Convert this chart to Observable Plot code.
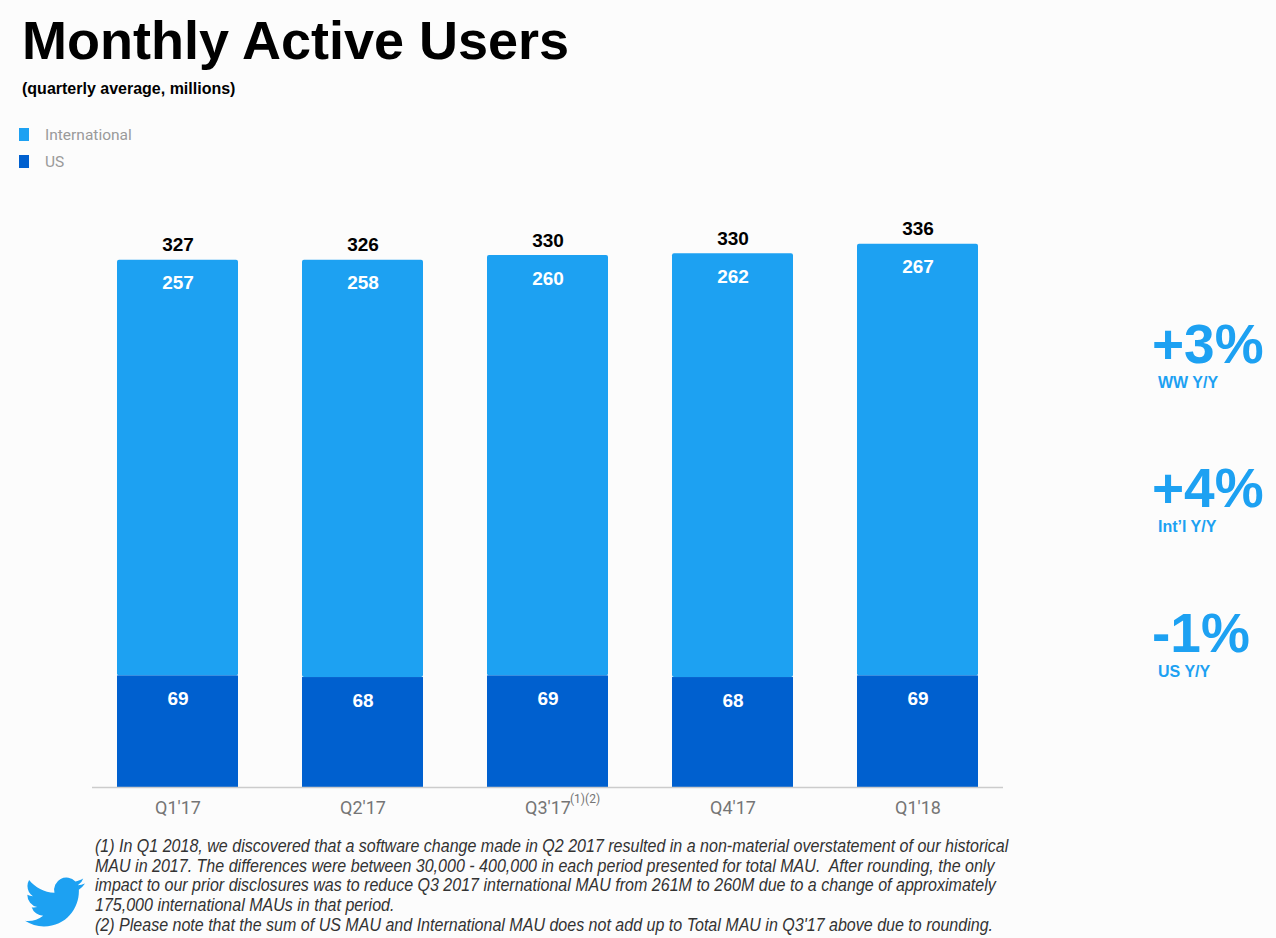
<!DOCTYPE html>
<html>
<head>
<meta charset="utf-8">
<script src="https://cdn.jsdelivr.net/npm/d3@7"></script>
<script src="https://cdn.jsdelivr.net/npm/@observablehq/plot@0.6"></script>
<style>
  html, body { margin: 0; padding: 0; background: #fcfcfc; }
  #page { position: relative; width: 1276px; height: 938px; overflow: hidden; background: #fcfcfc; font-family: "Liberation Sans", Arial, Helvetica, sans-serif; }
  #title { position: absolute; left: 22px; top: 9px; font-size: 54px; font-weight: bold; color: #000; white-space: nowrap; }
  #subtitle { position: absolute; left: 22px; top: 80px; font-size: 16px; font-weight: bold; color: #000; white-space: nowrap; }
  .leg { position: absolute; left: 19px; font-family: Roboto, sans-serif; font-size: 15.5px; color: #9a9a9a; white-space: nowrap; }
  .leg span.sw { position: absolute; left: 0; top: 2px; width: 10px; height: 13px; }
  .leg span.lab { position: absolute; left: 26px; top: 0; }
  #chart { position: absolute; left: 0; top: 200px; }
  .big { position: absolute; left: 1152px; color: #1DA1F2; font-weight: bold; white-space: nowrap; font-size: 55px; line-height: 55px; }
  .small { position: absolute; left: 1158px; color: #1DA1F2; font-weight: bold; white-space: nowrap; font-size: 16px; line-height: 18px; }
  #notes { position: absolute; left: 95px; top: 837px; font-family: "Liberation Sans", Arial, sans-serif; font-style: italic; font-size: 17.5px; line-height: 19.7px; color: #333; transform: scaleX(0.916); transform-origin: 0 0; }
  #notes div { white-space: nowrap; }
  #bird { position: absolute; left: 25px; top: 872px; }
</style>
</head>
<body>
<div id="page">
  <div id="title">Monthly Active Users</div>
  <div id="subtitle">(quarterly average, millions)</div>
  <div class="leg" style="top:126px"><span class="sw" style="background:#1DA1F2"></span><span class="lab">International</span></div>
  <div class="leg" style="top:153px"><span class="sw" style="background:#0060CF"></span><span class="lab">US</span></div>
  <div id="chart"></div>
  <div class="big" style="top:317px">+3%</div>
  <div class="small" style="top:374px">WW Y/Y</div>
  <div class="big" style="top:461px">+4%</div>
  <div class="small" style="top:518px">Int’l Y/Y</div>
  <div class="big" style="top:606px">-1%</div>
  <div class="small" style="top:663px">US Y/Y</div>
  <svg id="bird" width="60" height="60" viewBox="0 0 24 24"><path fill="#1DA1F2" d="M23.953 4.57a10 10 0 01-2.825.775 4.958 4.958 0 002.163-2.723c-.951.555-2.005.959-3.127 1.184a4.92 4.92 0 00-8.384 4.482C7.690 8.095 4.067 6.130 1.640 3.162a4.822 4.822 0 00-.666 2.475c0 1.710.870 3.213 2.188 4.096a4.904 4.904 0 01-2.228-.616v.06a4.923 4.923 0 003.946 4.827 4.996 4.996 0 01-2.212.085 4.936 4.936 0 004.604 3.417 9.867 9.867 0 01-6.102 2.105c-.390 0-.779-.023-1.170-.067a13.995 13.995 0 007.557 2.209c9.053 0 13.998-7.496 13.998-13.985 0-.210 0-.420-.015-.630A9.935 9.935 0 0024 4.590z"/></svg>
  <div id="notes">
    <div>(1) In Q1 2018, we discovered that a software change made in Q2 2017 resulted in a non-material overstatement of our historical</div>
    <div>MAU in 2017. The differences were between 30,000 - 400,000 in each period presented for total MAU.&nbsp; After rounding, the only</div>
    <div>impact to our prior disclosures was to reduce Q3 2017 international MAU from 261M to 260M due to a change of approximately</div>
    <div>175,000 international MAUs in that period.</div>
    <div>(2) Please note that the sum of US MAU and International MAU does not add up to Total MAU in Q3'17 above due to rounding.</div>
  </div>
</div>
<script>
const quarters = ["Q1'17", "Q2'17", "Q3'17", "Q4'17", "Q1'18"];
const international = [257, 258, 260, 262, 267];
const us = [69, 68, 69, 68, 69];
const totals = [327, 326, 330, 330, 336];
const footnoteTick = "Q3'17";
const footnoteMark = "(1)(2)";

const intlColor = "#1DA1F2";
const usColor = "#0060CF";

const rows = quarters.map((q, i) => ({
  q, intl: international[i], us: us[i], total: totals[i], top: us[i] + international[i]
}));

const chart = Plot.plot({
  width: 1050,
  height: 620,
  marginLeft: 92,
  marginRight: 47,
  marginTop: 0,
  marginBottom: 33,
  style: { background: "transparent", fontFamily: "Liberation Sans, Arial, sans-serif" },
  x: { domain: quarters, paddingInner: 0.347, paddingOuter: 0.13, label: null },
  y: { domain: [0, 363], axis: null },
  marks: [
    Plot.barY(rows, { x: "q", y1: "us", y2: "top", fill: intlColor, rx: 2 }),
    Plot.barY(rows, { x: "q", y1: 0, y2: "us", fill: usColor }),
    Plot.ruleY([0], { stroke: "#cccccc", strokeWidth: 1.5 }),
    Plot.text(rows, { x: "q", y: "top", text: d => String(d.total), dy: -15, fontSize: 19, fontWeight: "bold", fill: "#000" }),
    Plot.text(rows, { x: "q", y: "top", text: d => String(d.intl), dy: 23, fontSize: 19, fontWeight: "bold", fill: "#fff" }),
    Plot.text(rows, { x: "q", y: "us", text: d => String(d.us), dy: 23, fontSize: 19, fontWeight: "bold", fill: "#fff" }),
    Plot.axisX({ tickSize: 0, tickPadding: 14, fontSize: 18, fill: "#757575", fontFamily: "Roboto, sans-serif", label: null }),
    Plot.text([footnoteTick], { x: d => d, frameAnchor: "bottom", dy: 15, dx: 22, textAnchor: "start", text: () => footnoteMark, fontSize: 12, fill: "#757575", fontFamily: "Roboto, sans-serif" })
  ]
});
document.getElementById("chart").appendChild(chart);
</script>
</body>
</html>
